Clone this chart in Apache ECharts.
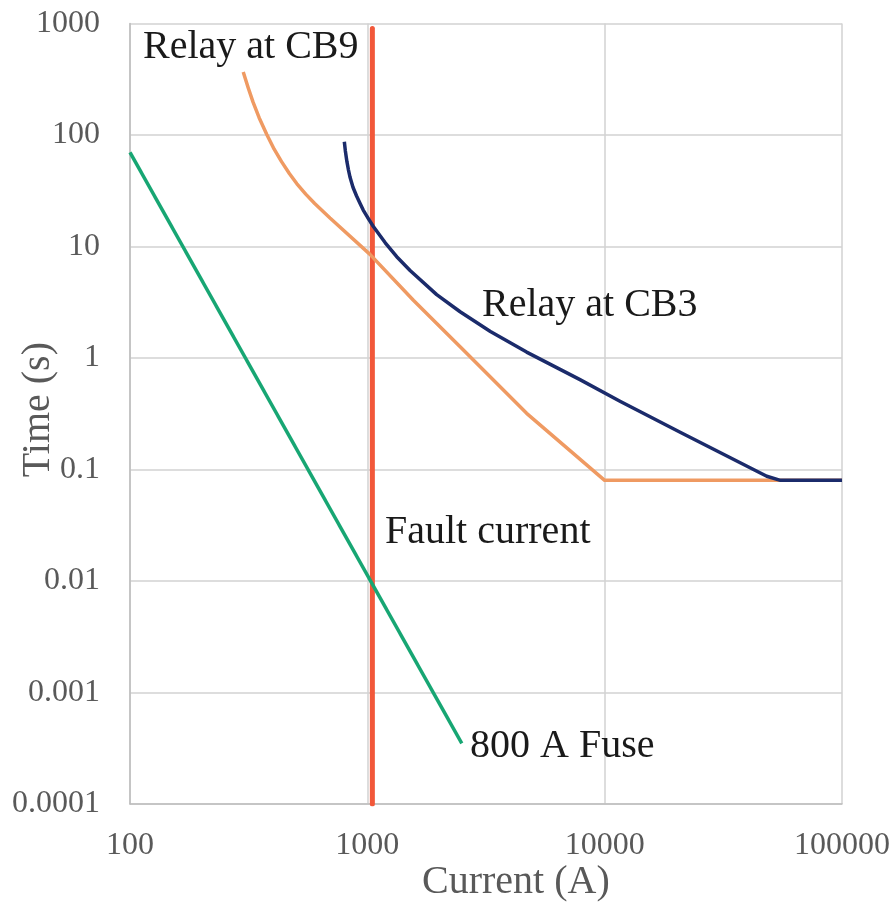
<!DOCTYPE html>
<html>
<head>
<meta charset="utf-8">
<style>
  html, body { margin: 0; padding: 0; background: #ffffff; }
  #chart { width: 896px; height: 916px; }
</style>
<script src="https://cdn.jsdelivr.net/npm/echarts@6/dist/echarts.min.js"></script>
</head>
<body>
<div id="chart"></div>
<script>
// Time-current coordination curves (log-log)
const xTickLabels = ['100', '1000', '10000', '100000'];
const yTickLabels = ['0.0001', '0.001', '0.01', '0.1', '1', '10', '100', '1000'];

// Relay at CB9
const cb9Current = [300, 315, 330, 350, 377, 405, 435, 470, 505, 550, 600, 696, 1026, 1563, 2460, 4690, 10000, 100000];
const cb9Time    = [367, 264, 197, 143, 101, 74.6, 57.7, 44.9, 36.5, 29.5, 24.3, 18.0, 8.5, 3.3, 1.26, 0.319, 0.08, 0.08];

// Relay at CB3
const cb3Current = [800, 808, 820, 832, 845, 870, 900, 930, 961, 1010, 1060, 1190, 1330, 1514, 1960, 2460, 3300, 4690, 7870, 11600, 20800, 48200, 55000, 100000];
const cb3Time    = [87, 72, 58, 49, 42, 34, 28.5, 24.5, 21.2, 17.8, 15.1, 10.8, 8.1, 6.1, 3.7, 2.6, 1.73, 1.13, 0.64, 0.41, 0.216, 0.087, 0.08, 0.08];

// 800 A fuse
const fuseCurrent = [100, 2500];
const fuseTime    = [70, 0.00035];

// Fault current marker
const faultCurrent = [1050, 1050];
const faultTime    = [0.0001, 900];

const pairs = (xs, ys) => xs.map((x, i) => [x, ys[i]]);

const serif = '"Liberation Serif", "DejaVu Serif", serif';
const tickColor = '#595959';
const gridColor = '#d2d2d2';

const chart = echarts.init(document.getElementById('chart'), null, { renderer: 'canvas' });

chart.setOption({
  animation: false,
  backgroundColor: '#ffffff',
  grid: { left: 130, right: 54, top: 23.5, bottom: 112, containLabel: false },
  xAxis: {
    type: 'log',
    logBase: 10,
    min: 100,
    max: 100000,
    splitNumber: 3,
    axisLine: { show: true, lineStyle: { color: '#bdbdbd', width: 1.5 } },
    axisTick: { show: false },
    splitLine: { show: true, lineStyle: { color: gridColor, width: 1.5 } },
    axisLabel: {
      color: tickColor,
      fontFamily: serif,
      fontSize: 32,
      margin: 26,
      formatter: v => xTickLabels[Math.round(Math.log10(v)) - 2]
    }
  },
  yAxis: {
    type: 'log',
    logBase: 10,
    min: 0.0001,
    max: 1000,
    splitNumber: 7,
    axisLine: { show: true, lineStyle: { color: '#bdbdbd', width: 1.5 } },
    axisTick: { show: false },
    splitLine: { show: true, lineStyle: { color: gridColor, width: 1.5 } },
    axisLabel: {
      color: tickColor,
      fontFamily: serif,
      fontSize: 32,
      margin: 30,
      formatter: v => yTickLabels[Math.round(Math.log10(v)) + 4]
    }
  },
  series: [
    {
      name: 'Fault current',
      type: 'line',
      data: pairs(faultCurrent, faultTime),
      symbol: 'none',
      lineStyle: { color: '#f2583a', width: 5, cap: 'round' },
      z: 1
    },
    {
      name: 'Relay at CB9',
      type: 'line',
      data: pairs(cb9Current, cb9Time),
      symbol: 'none',
      lineStyle: { color: '#ef9a62', width: 3.5, join: 'round' },
      z: 2
    },
    {
      name: 'Relay at CB3',
      type: 'line',
      data: pairs(cb3Current, cb3Time),
      symbol: 'none',
      lineStyle: { color: '#1b2b6b', width: 3.5, join: 'round' },
      z: 3
    },
    {
      name: '800 A Fuse',
      type: 'line',
      data: pairs(fuseCurrent, fuseTime),
      symbol: 'none',
      lineStyle: { color: '#17a673', width: 3.5 },
      z: 4
    }
  ],
  graphic: [
    { type: 'text', left: 143, top: 27, style: { text: 'Relay at CB9', font: '40px ' + serif, fill: '#1a1a1a' }, z: 10 },
    { type: 'text', left: 482, top: 285, style: { text: 'Relay at CB3', font: '40px ' + serif, fill: '#1a1a1a' }, z: 10 },
    { type: 'text', left: 385, top: 512, style: { text: 'Fault current', font: '40px ' + serif, fill: '#1a1a1a' }, z: 10 },
    { type: 'text', left: 470, top: 726, style: { text: '800 A Fuse', font: '40px ' + serif, fill: '#1a1a1a' }, z: 10 },
    { type: 'text', left: 422, top: 862, style: { text: 'Current (A)', font: '40px ' + serif, fill: tickColor }, z: 10 },
    { type: 'text', left: 18, top: 342, rotation: Math.PI / 2, style: { text: 'Time (s)', font: '40px ' + serif, fill: tickColor }, z: 10 }
  ]
});
</script>
</body>
</html>
